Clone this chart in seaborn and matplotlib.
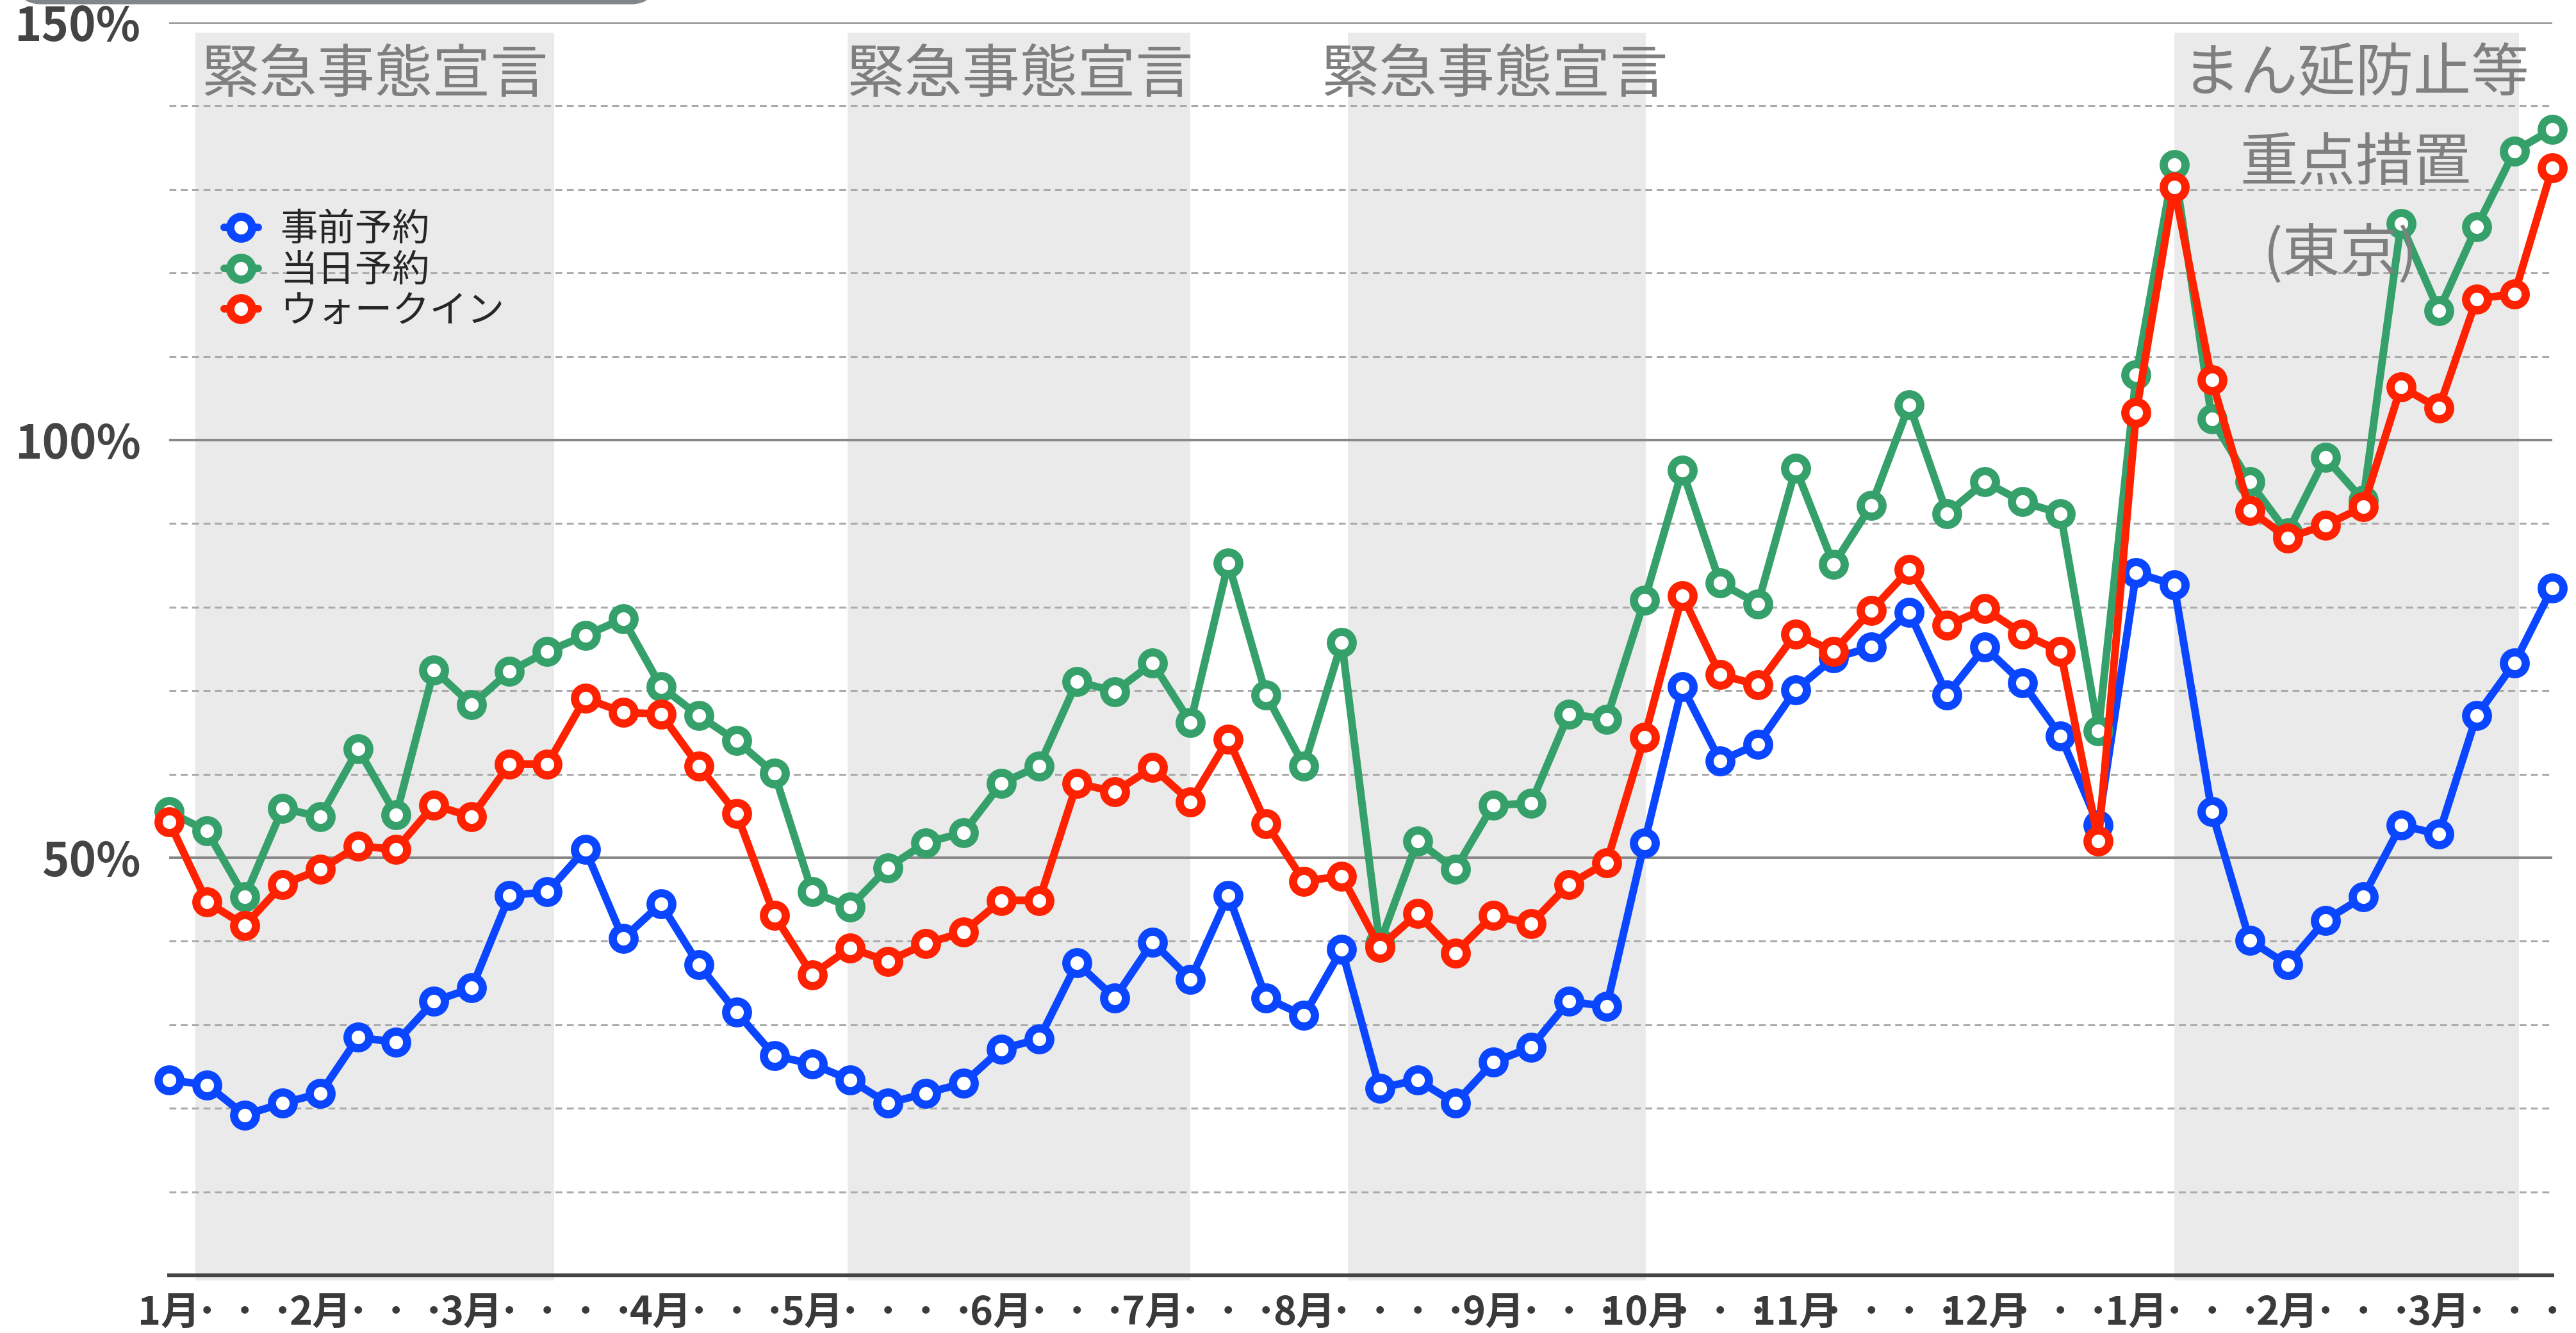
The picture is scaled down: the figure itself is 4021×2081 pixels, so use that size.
import numpy as np
import pandas as pd
import matplotlib
matplotlib.use("Agg")
import matplotlib.pyplot as plt
import matplotlib.patches as mpatches
from matplotlib.ticker import FixedLocator
import seaborn as sns

# weekly ratios (% of previous year), Jan 2021 - Mar 2022
advance = [23.4, 22.8, 19.2, 20.6, 21.8, 28.5, 27.9, 32.8, 34.4, 45.5,
           45.9, 51.0, 40.3, 44.5, 37.2, 31.5, 26.3, 25.3, 23.4, 20.6,
           21.8, 23.0, 27.1, 28.3, 37.4, 33.2, 39.9, 35.4, 45.5, 33.2,
           31.1, 39.0, 22.4, 23.4, 20.6, 25.5, 27.3, 32.8, 32.2, 51.8,
           70.5, 61.6, 63.6, 70.1, 73.9, 75.2, 79.4, 69.5, 75.2, 70.9,
           64.6, 53.9, 84.1, 82.7, 55.5, 40.1, 37.2, 42.5, 45.3, 53.9,
           52.8, 67.0, 73.3, 82.3]
same_day = [55.5, 53.2, 45.3, 55.9, 54.9, 63.0, 55.1, 72.5, 68.3, 72.3,
            74.7, 76.6, 78.6, 70.5, 67.0, 64.0, 60.1, 45.9, 44.1, 48.8,
            51.8, 53.0, 58.9, 61.0, 71.1, 69.9, 73.3, 66.2, 85.3, 69.5,
            61.0, 75.8, 39.7, 52.0, 48.6, 56.3, 56.5, 67.2, 66.6, 80.8,
            96.4, 82.9, 80.4, 96.6, 85.1, 92.2, 104.2, 91.2, 95.0, 92.6,
            91.2, 65.2, 107.8, 133.0, 102.5, 95.0, 88.9, 97.9, 92.8, 125.9,
            115.5, 125.5, 134.6, 137.2]
walk_in = [54.3, 44.7, 41.9, 46.8, 48.6, 51.4, 51.0, 56.3, 54.9, 61.2,
           61.2, 69.1, 67.4, 67.2, 61.0, 55.3, 43.1, 36.0, 39.2, 37.6,
           39.7, 41.1, 44.9, 44.9, 58.9, 57.9, 60.8, 56.7, 64.2, 54.1,
           47.2, 47.8, 39.3, 43.3, 38.6, 43.1, 42.1, 46.8, 49.4, 64.4,
           81.4, 71.9, 70.7, 76.8, 74.7, 79.6, 84.5, 77.8, 79.8, 76.8,
           74.7, 52.0, 103.3, 130.3, 107.2, 91.6, 88.3, 89.8, 92.0, 106.4,
           103.8, 116.9, 117.5, 132.6]

series_names = ["事前予約", "当日予約", "ウォークイン"]
series_colors = ["#0a46ff", "#36a06a", "#ff2200"]

month_idx = [0, 4, 8, 13, 17, 22, 26, 30, 35, 39, 43, 48, 52, 56, 60]
month_lbl = ["1月", "2月", "3月", "4月", "5月", "6月", "7月", "8月", "9月",
             "10月", "11月", "12月", "1月", "2月", "3月"]

# shaded periods (week positions) and their captions
periods = [(0.69, 10.18), (17.93, 26.99), (31.16, 39.03), (53.0, 62.12)]
captions = [(5.44, 143.6, "緊急事態宣言"), (22.5, 143.6, "緊急事態宣言"),
            (35.05, 143.6, "緊急事態宣言"), (57.8, 143.8, "まん延防止等"),
            (57.8, 133.0, "重点措置"), (57.4, 122.2, "(東京)")]

weeks = np.arange(len(advance))
df = pd.DataFrame({"week": np.tile(weeks, 3),
                   "value": advance + same_day + walk_in,
                   "series": np.repeat(series_names, len(weeks))})

sns.set_theme(style="white")
plt.rcParams["font.family"] = ["Noto Sans CJK JP", "DejaVu Sans"]

fig = plt.figure(figsize=(40.21, 20.81), dpi=100)
ax = fig.add_axes([264 / 4021, 1 - 1991 / 2081, (3984 - 264) / 4021, (1991 - 35) / 2081])

for a, b in periods:
    ax.axvspan(a, b, ymin=-0.004, ymax=0.992, color="#eaeaea", zorder=0.1, lw=0, clip_on=False)

# draw order: blue, red, green (green on top)
for i in [0, 2, 1]:
    name = series_names[i]
    sns.lineplot(data=df[df["series"] == name], x="week", y="value", ax=ax,
                 color=series_colors[i], lw=8.6, marker="o", ms=24.5,
                 mfc="white", mec=series_colors[i], mew=9.2,
                 label=name, clip_on=False, zorder=2 + i * 0.1)

ax.set_xlim(0, 63)
ax.set_ylim(0, 150)
ax.yaxis.set_major_locator(FixedLocator([50, 100, 150]))
ax.yaxis.set_minor_locator(FixedLocator([10, 20, 30, 40, 60, 70, 80, 90, 110, 120, 130, 140]))
ax.set_yticklabels(["50%", "100%", "150%"], fontweight="semibold")
ax.grid(True, which="major", axis="y", color="#888888", lw=2.9)
ax.grid(True, which="minor", axis="y", color="#aaaaaa", lw=2.2, ls=(0, (3.5, 2.3)))
ax.set_axisbelow(True)
ax.tick_params(axis="y", which="both", length=0, labelsize=52, labelcolor="#444444", pad=32)

xlabels = ["･"] * len(weeks)
for i, m in zip(month_idx, month_lbl):
    xlabels[i] = m
ax.set_xticks(weeks)
ax.set_xticklabels(xlabels, fontsize=44, fontweight="bold", color="#3a3a3a")
ax.tick_params(axis="x", length=0, pad=20)
ax.set_xlabel("")
ax.set_ylabel("")

for s in ["top", "right", "left"]:
    ax.spines[s].set_visible(False)
ax.spines["bottom"].set_color("#444444")
ax.spines["bottom"].set_linewidth(4.3)
ax.spines["bottom"].set_zorder(1.5)

for x, y, t in captions:
    ax.text(x, y, t, ha="center", va="center", fontsize=65, color="#7f7f7f", zorder=4)

handles, labels = ax.get_legend_handles_labels()
order = [labels.index(n) for n in series_names]
ax.legend([handles[k] for k in order], [labels[k] for k in order],
          loc="upper left", bbox_to_anchor=(350 / 4021, 1 - 328 / 2081),
          bbox_transform=fig.transFigure, frameon=False, fontsize=42,
          labelspacing=0.05, handlelength=0.9, handletextpad=0.6,
          borderpad=0, borderaxespad=0)

# grey header band cut off at the top edge
fig.patches.append(mpatches.FancyBboxPatch((25, 2081 - 6), 999, 100,
                                           boxstyle="round,pad=0,rounding_size=40",
                                           transform=None, color="#80868b"))

fig.savefig("out.png", dpi=100)
